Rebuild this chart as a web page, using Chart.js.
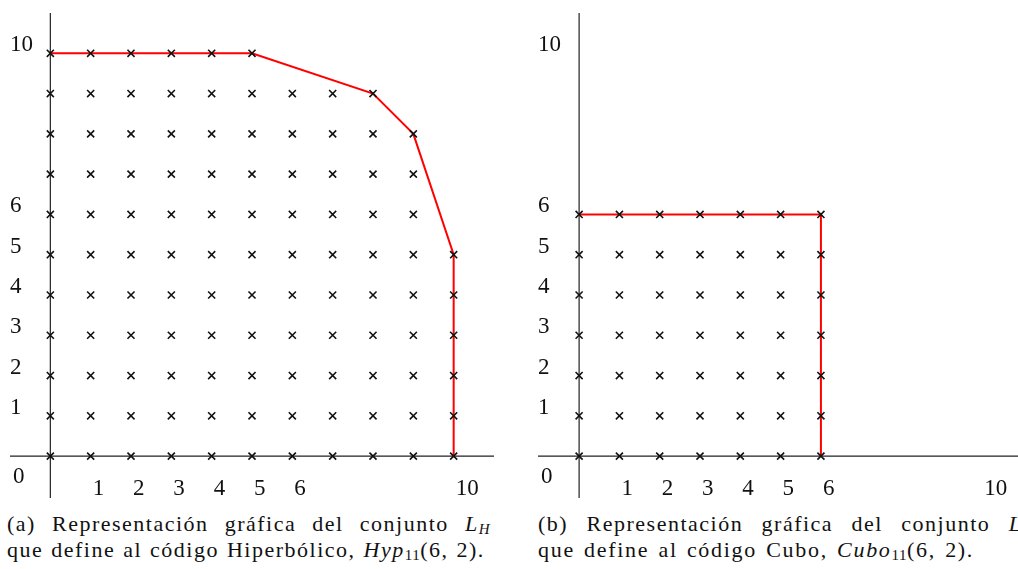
<!DOCTYPE html>
<html>
<head>
<meta charset="utf-8">
<script src="https://cdn.jsdelivr.net/npm/chart.js@4"></script>
<style>
  html, body { margin: 0; padding: 0; background: #fff; overflow: hidden; }
  body { width: 1018px; height: 569px; position: relative; font-family: "Liberation Serif", serif; color: #111; }
  canvas { position: absolute; top: 0; }
  #leftChart { left: 0; }
  #rightChart { left: 509px; }
  .cap { position: absolute; font-size: 22px; line-height: 26px; white-space: nowrap; letter-spacing: 1.5px; word-spacing: 1px; }
  .cap .l1 { text-align: justify; text-align-last: justify; }
  .cap sub { font-size: 15px; vertical-align: -3px; line-height: 0; letter-spacing: 0.5px; }
  #capA { left: 7px; top: 511px; width: 483px; }
  #capB { left: 538px; top: 511px; width: 495px; }
  #capB .l2 { letter-spacing: 1.7px; word-spacing: 2px; }
</style>
</head>
<body>
<canvas id="leftChart" width="509" height="505"></canvas>
<canvas id="rightChart" width="509" height="505"></canvas>
<div class="cap" id="capA">
  <div class="l1">(a) Representación gráfica del conjunto <i>L<sub>H</sub></i></div>
  <div>que define al código Hiperbólico, <i>Hyp</i><sub>11</sub>(6, 2).</div>
</div>
<div class="cap" id="capB">
  <div class="l1">(b) Representación gráfica del conjunto <i>L<sub>C</sub></i></div>
  <div class="l2">que define al código Cubo, <i>Cubo</i><sub>11</sub>(6, 2).</div>
</div>
<script>
// largest x present in each row, rows y = 0, 1, 2, ...
const hypRowMaxX = [10, 10, 10, 10, 10, 10, 9, 9, 9, 8, 5];
const cubeRowMaxX = [6, 6, 6, 6, 6, 6, 6];

// red boundary of each set
const hypEdgeX = [0, 5, 8, 9, 10, 10];
const hypEdgeY = [10, 10, 9, 8, 5, 0];
const cubeEdgeX = [0, 6, 6];
const cubeEdgeY = [6, 6, 0];

// tick labels
const xTicks = [1, 2, 3, 4, 5, 6, 10];
const yTicks = [10, 6, 5, 4, 3, 2, 1];
const originLabel = "0";

const labelFont = '23px "Liberation Serif", serif';

function gridPoints(rowMax) {
  const pts = [];
  rowMax.forEach((maxX, y) => {
    for (let x = 0; x <= maxX; x++) pts.push({ x: x, y: y });
  });
  return pts;
}

function edgePoints(xs, ys) {
  return xs.map((x, i) => ({ x: x, y: ys[i] }));
}

// axes + labels drawn from the chart's own scales
const axesPlugin = {
  id: "latexAxes",
  beforeDatasetsDraw(chart) {
    const ctx = chart.ctx;
    const area = chart.chartArea;
    const xs = chart.scales.x;
    const ys = chart.scales.y;
    const x0 = xs.getPixelForValue(0);
    const y0 = ys.getPixelForValue(0);
    ctx.save();
    ctx.strokeStyle = "#222";
    ctx.lineWidth = 1.2;
    ctx.beginPath();
    ctx.moveTo(area.left, y0);
    ctx.lineTo(area.right, y0);
    ctx.moveTo(x0, area.top);
    ctx.lineTo(x0, area.bottom);
    ctx.stroke();

    ctx.fillStyle = "#111";
    ctx.font = labelFont;
    ctx.textBaseline = "middle";
    ctx.textAlign = "left";
    xTicks.forEach((v) => {
      ctx.fillText(String(v), xs.getPixelForValue(v) + 2, y0 + 33);
    });
    yTicks.forEach((v) => {
      ctx.fillText(String(v), area.left, ys.getPixelForValue(v) - 8);
    });
    ctx.fillText(originLabel, area.left + 3, y0 + 21);
    ctx.restore();
  }
};

function makeChart(id, rowMax, edgeX, edgeY, padLeft, padRight, xMin, xMax) {
  return new Chart(document.getElementById(id), {
    type: "scatter",
    data: {
      datasets: [
        {
          data: gridPoints(rowMax),
          pointStyle: "crossRot",
          pointRadius: 5,
          pointBorderColor: "#111",
          pointBorderWidth: 1.6,
          order: 1
        },
        {
          data: edgePoints(edgeX, edgeY),
          showLine: true,
          borderColor: "#ff0000",
          borderWidth: 2,
          pointRadius: 0,
          order: 2
        }
      ]
    },
    options: {
      responsive: false,
      devicePixelRatio: 1,
      animation: false,
      layout: {
        autoPadding: false,
        padding: { left: padLeft, right: padRight, top: 13, bottom: 7 }
      },
      plugins: { legend: { display: false }, tooltip: { enabled: false } },
      scales: {
        x: { type: "linear", display: false, min: xMin, max: xMax },
        y: { type: "linear", display: false, min: -1.04, max: 11 }
      }
    },
    plugins: [axesPlugin]
  });
}

makeChart("leftChart", hypRowMaxX, hypEdgeX, hypEdgeY, 10, 15, -1, 11);
makeChart("rightChart", cubeRowMaxX, cubeEdgeX, cubeEdgeY, 29, 0, -1.02, 10.89);
</script>
</body>
</html>
